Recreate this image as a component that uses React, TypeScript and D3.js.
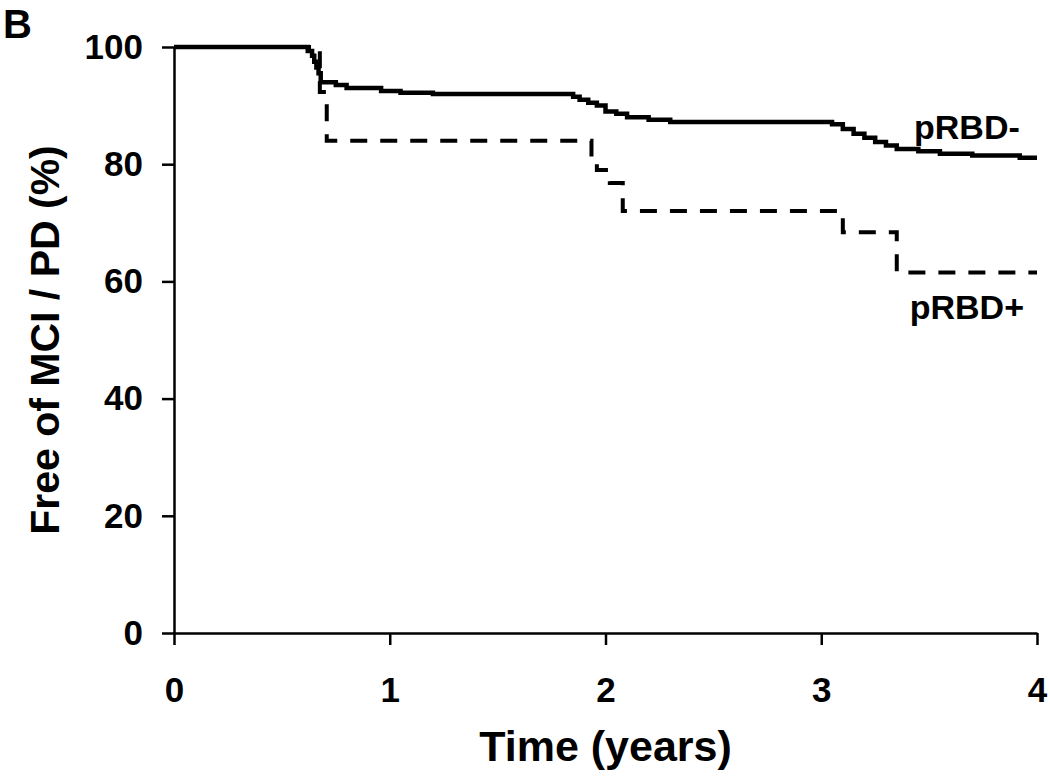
import { useEffect, useRef } from 'react'
import * as d3 from 'd3'

const WIDTH = 1050
const HEIGHT = 777
const MARGIN = { top: 47, right: 13, bottom: 144, left: 174 }
const FONT = '"Liberation Sans", Arial, sans-serif'

// Kaplan-Meier curves (step after each time)
const negTimes = [0, 0.62, 0.64, 0.65, 0.66, 0.67, 0.68, 0.75, 0.8, 0.96, 1.05, 1.2, 1.85, 1.88, 1.92, 1.96, 2.0, 2.05, 2.1, 2.2, 2.3, 3.05, 3.1, 3.15, 3.2, 3.25, 3.3, 3.35, 3.45, 3.55, 3.7, 3.92, 4.0]
const negValues = [100, 99.3, 98.5, 97.5, 96.5, 95.5, 94.0, 93.5, 93.0, 92.5, 92.2, 92.0, 91.5, 91.0, 90.5, 90.0, 89.0, 88.6, 88.0, 87.6, 87.2, 86.8, 86.0, 85.2, 84.5, 83.8, 83.2, 82.6, 82.2, 81.8, 81.5, 81.1, 81.1]

const posTimes = [0, 0.676, 0.708, 1.935, 1.96, 2.02, 2.08, 3.1, 3.35, 4.0]
const posValues = [100, 92.3, 84.0, 81.2, 79.0, 76.8, 72.0, 68.4, 61.5, 61.5]

const xTicks = [0, 1, 2, 3, 4]
const yTicks = [0, 20, 40, 60, 80, 100]

const seriesLabels = [
  { text: 'pRBD-', t: 3.43, v: 84.3 },
  { text: 'pRBD+', t: 3.41, v: 53.5 },
]

export default function App() {
  const axesRef = useRef<SVGGElement>(null)
  const boundsWidth = WIDTH - MARGIN.left - MARGIN.right
  const boundsHeight = HEIGHT - MARGIN.top - MARGIN.bottom

  const xScale = d3.scaleLinear().domain([0, 4]).range([0, boundsWidth])
  const yScale = d3.scaleLinear().domain([0, 100]).range([boundsHeight, 0])

  const line = d3
    .line<[number, number]>()
    .x((d) => xScale(d[0]))
    .y((d) => yScale(d[1]))
    .curve(d3.curveStepAfter)

  const negPath = line(negTimes.map((t, i) => [t, negValues[i]]))
  const posPath = line(posTimes.map((t, i) => [t, posValues[i]]))

  useEffect(() => {
    const g = d3.select(axesRef.current)
    g.selectAll('*').remove()

    const xAxis = d3
      .axisBottom(xScale)
      .tickValues(xTicks)
      .tickFormat(d3.format('d'))
      .tickSize(12)
      .tickSizeOuter(0)
      .tickPadding(32)
    const yAxis = d3
      .axisLeft(yScale)
      .tickValues(yTicks)
      .tickFormat(d3.format('d'))
      .tickSize(12)
      .tickSizeOuter(0)
      .tickPadding(19)

    g.append('g').attr('transform', `translate(0,${boundsHeight})`).call(xAxis)
    g.append('g').call(yAxis)

    g.selectAll('path.domain').style('stroke', '#000').style('stroke-width', 2.5)
    g.selectAll('.tick line').style('stroke', '#000').style('stroke-width', 2.5)
    g.selectAll('.tick text')
      .style('font-family', FONT)
      .style('font-weight', 'bold')
      .style('font-size', '35px')
      .style('fill', '#000')
  }, [])

  return (
    <svg width={WIDTH} height={HEIGHT} style={{ position: 'absolute', left: 0, top: 0, background: '#fff' }}>
      <text x={3} y={38} style={{ fontFamily: FONT, fontWeight: 'bold', fontSize: '40px' }}>
        B
      </text>
      <g transform={`translate(${MARGIN.left},${MARGIN.top})`}>
        <path d={negPath ?? ''} fill="none" stroke="#000" strokeWidth={4.5} />
        <path d={posPath ?? ''} fill="none" stroke="#000" strokeWidth={4} strokeDasharray="17,13" />
        {seriesLabels.map((l) => (
          <text
            key={l.text}
            x={xScale(l.t)}
            y={yScale(l.v)}
            style={{ fontFamily: FONT, fontWeight: 'bold', fontSize: '34px' }}
          >
            {l.text}
          </text>
        ))}
        <g ref={axesRef} />
      </g>
      <text
        x={MARGIN.left + xScale(2)}
        y={761}
        textAnchor="middle"
        style={{ fontFamily: FONT, fontWeight: 'bold', fontSize: '43px' }}
      >
        Time (years)
      </text>
      <text
        transform={`translate(59,${MARGIN.top + boundsHeight / 2}) rotate(-90)`}
        textAnchor="middle"
        style={{ fontFamily: FONT, fontWeight: 'bold', fontSize: '41px' }}
      >
        Free of MCI / PD (%)
      </text>
    </svg>
  )
}
